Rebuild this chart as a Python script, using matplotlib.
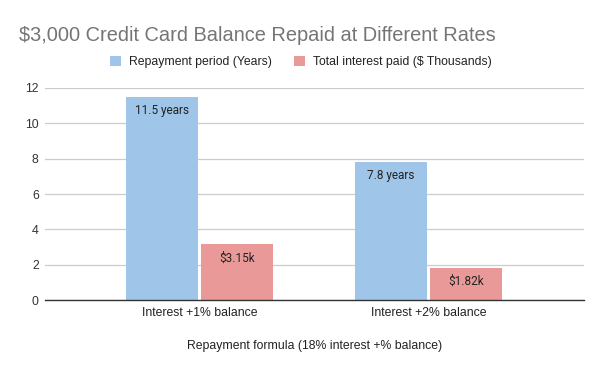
import matplotlib.pyplot as plt
import numpy as np

categories = ["Interest +1% balance", "Interest +2% balance"]
years = [11.5, 7.8]
interest_k = [3.15, 1.82]
year_labels = ["11.5 years", "7.8 years"]
interest_labels = ["$3.15k", "$1.82k"]
series_names = ["Repayment period (Years)", "Total interest paid ($ Thousands)"]

blue = "#9fc5e8"
red = "#ea9999"
font = "Liberation Sans"

fig = plt.figure(figsize=(6, 3.71), dpi=100)
ax = fig.add_axes([0.075, 0.191, 0.898, 0.572])

x = np.arange(len(categories))
w = 0.314
gap = 0.007
b1 = ax.bar(x - w / 2 - gap, years, w, color=blue, label=series_names[0], zorder=3)
b2 = ax.bar(x + w / 2 + gap, interest_k, w, color=red, label=series_names[1], zorder=3)

# labels inside bar tops
for rect, lab in zip(b1, year_labels):
    ax.annotate(lab, (rect.get_x() + rect.get_width() / 2, rect.get_height()),
                xytext=(0, -5), textcoords="offset points", ha="center", va="top",
                fontsize=8.5, family="Roboto", color="#222222")
for rect, lab in zip(b2, interest_labels):
    ax.annotate(lab, (rect.get_x() + rect.get_width() / 2, rect.get_height()),
                xytext=(0, -5), textcoords="offset points", ha="center", va="top",
                fontsize=8.5, family="Roboto", color="#222222")

ax.set_xlim(-0.675, 1.678)
ax.set_ylim(0, 12)
ax.set_yticks(range(0, 13, 2))
ax.set_xticks(x)
ax.set_xticklabels(categories, fontsize=8.8, family=font, color="#222222")
for t in ax.get_yticklabels():
    t.set_fontsize(8.8)
    t.set_family(font)
    t.set_color("#333333")
ax.tick_params(axis="y", length=0, pad=4.5)
ax.tick_params(axis="x", length=0, pad=5)
ax.grid(axis="y", color="#cccccc", linewidth=0.9, zorder=0)
for s in ["top", "right", "left"]:
    ax.spines[s].set_visible(False)
ax.spines["bottom"].set_color("#333333")
ax.spines["bottom"].set_linewidth(1.0)
ax.spines["bottom"].set_zorder(4)

ax.set_xlabel("Repayment formula (18% interest +% balance)", fontsize=8.8,
              family=font, color="#222222", labelpad=15)

fig.text(0.032, 0.905, "$3,000 Credit Card Balance Repaid at Different Rates",
         fontsize=14.4, family=font, color="#757575", va="center")

leg = fig.legend(loc="center", bbox_to_anchor=(0.502, 0.833), ncol=2, frameon=False,
                 prop={"family": font, "size": 8.8}, handlelength=0.85, handleheight=0.85,
                 handletextpad=0.7, columnspacing=1.8)
for t in leg.get_texts():
    t.set_color("#222222")

fig.savefig("out.png", dpi=100)
